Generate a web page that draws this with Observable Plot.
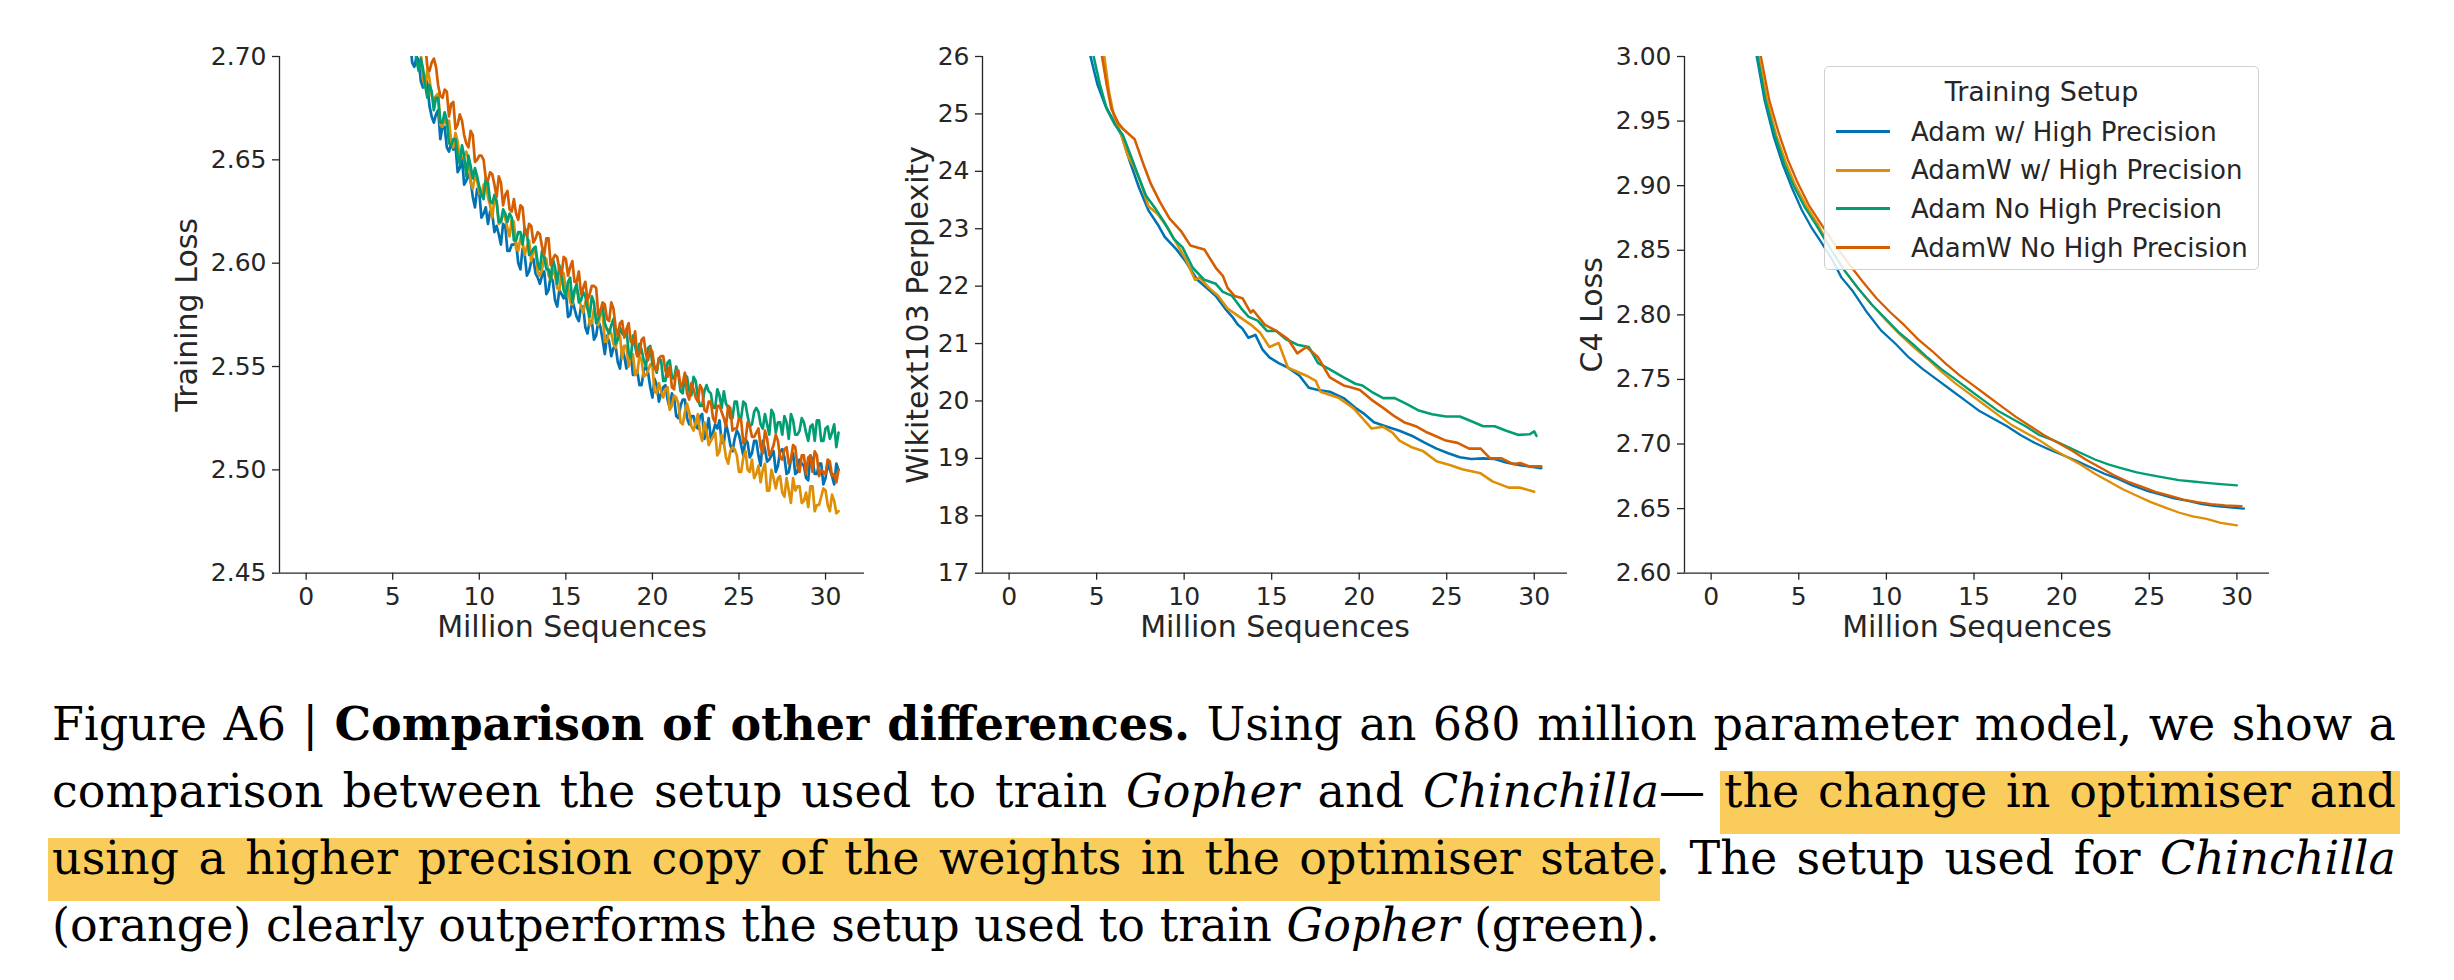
<!DOCTYPE html>
<html>
<head>
<meta charset="utf-8">
<script src="https://cdn.jsdelivr.net/npm/d3@7"></script>
<script src="https://cdn.jsdelivr.net/npm/@observablehq/plot@0.6"></script>
<style>
html, body { margin: 0; padding: 0; background: #fff; }
#page { position: relative; width: 2454px; height: 980px; overflow: hidden; background: #fff; }
.panel { position: absolute; top: 0; }
#legend { position: absolute; left: 1824px; top: 66px; width: 435px; height: 204px; box-sizing: border-box;
  border: 1.3px solid #cfcfcf; border-radius: 5px; background: rgba(255,255,255,0.85);
  font-family: "DejaVu Sans"; color: #262626; }
#legend .lt { position: absolute; left: 0; right: 0; top: 5px; height: 40px; line-height: 40px; font-size: 27px; text-align: center; }
#legend .row { position: absolute; left: 0; right: 0; height: 38.6px; line-height: 38.6px; font-size: 26px; white-space: nowrap; }
#legend .sw { position: absolute; left: 11px; width: 54px; height: 3px; top: 17.5px; }
#legend .tx { position: absolute; left: 86px; top: 0; }
#caption { position: absolute; left: 52px; top: 691px; width: 2344px; font-family: "DejaVu Serif"; font-size: 46px; color: #000; }
#caption .cl { height: 67px; line-height: 67px; white-space: nowrap; }
#caption .in { display: inline-block; white-space: nowrap; }
#caption .hl { padding: 0 4px 15.6px 4px; margin: 0 -4px; background: linear-gradient(to bottom, transparent 7px, #f9cc5c 7px); }
</style>
</head>
<body>
<div id="page">
  <div id="p1" class="panel"></div>
  <div id="p2" class="panel"></div>
  <div id="p3" class="panel"></div>
  <div id="legend"></div>
  <div id="caption">
    <div class="cl j"><span class="in">Figure A6 | <b>Comparison of other differences.</b> Using an 680 million parameter model, we show a</span></div>
    <div class="cl j"><span class="in">comparison between the setup used to train <i>Gopher</i> and <i>Chinchilla</i>— <span class="hl">the change in optimiser and</span></span></div>
    <div class="cl j"><span class="in"><span class="hl">using a higher precision copy of the weights in the optimiser state</span>. The setup used for <i>Chinchilla</i></span></div>
    <div class="cl"><span class="in">(orange) clearly outperforms the setup used to train <i>Gopher</i> (green).</span></div>
  </div>
</div>
<script>
// ---------------- data ----------------
const setups = ["Adam w/ High Precision", "AdamW w/ High Precision", "Adam No High Precision", "AdamW No High Precision"];
const colors = ["#0173b2", "#de8f05", "#029e73", "#d55e00"];
const legendTitle = "Training Setup";
const xLabel = "Million Sequences";
const xTicks = [0, 5, 10, 15, 20, 25, 30];

// Panel 1: training loss (noisy). Values at trainX and at the in-between steps trainXMid.
const trainX = [6,6.25,6.5,6.75,7,7.25,7.5,7.75,8,8.25,8.5,8.75,9,9.25,9.5,9.75,10,10.25,10.5,10.75,11,11.25,11.5,11.75,12,12.25,12.5,12.75,13,13.25,13.5,13.75,14,14.25,14.5,14.75,15,15.25,15.5,15.75,16,16.25,16.5,16.75,17,17.25,17.5,17.75,18,18.25,18.5,18.75,19,19.25,19.5,19.75,20,20.25,20.5,20.75,21,21.25,21.5,21.75,22,22.25,22.5,22.75,23,23.25,23.5,23.75,24,24.25,24.5,24.75,25,25.25,25.5,25.75,26,26.25,26.5,26.75,27,27.25,27.5,27.75,28,28.25,28.5,28.75,29,29.25,29.5,29.75,30,30.25,30.5,30.75];
const trainXMid = [6.125,6.375,6.625,6.875,7.125,7.375,7.625,7.875,8.125,8.375,8.625,8.875,9.125,9.375,9.625,9.875,10.125,10.375,10.625,10.875,11.125,11.375,11.625,11.875,12.125,12.375,12.625,12.875,13.125,13.375,13.625,13.875,14.125,14.375,14.625,14.875,15.125,15.375,15.625,15.875,16.125,16.375,16.625,16.875,17.125,17.375,17.625,17.875,18.125,18.375,18.625,18.875,19.125,19.375,19.625,19.875,20.125,20.375,20.625,20.875,21.125,21.375,21.625,21.875,22.125,22.375,22.625,22.875,23.125,23.375,23.625,23.875,24.125,24.375,24.625,24.875,25.125,25.375,25.625,25.875,26.125,26.375,26.625,26.875,27.125,27.375,27.625,27.875,28.125,28.375,28.625,28.875,29.125,29.375,29.625,29.875,30.125,30.375,30.625];

const trainAdamHP = [2.708,2.695,2.698,2.685,2.687,2.671,2.672,2.660,2.666,2.654,
2.655,2.644,2.651,2.640,2.640,2.627,2.634,2.624,2.619,2.624,
2.618,2.609,2.618,2.606,2.609,2.600,2.607,2.594,2.601,2.595,
2.590,2.596,2.587,2.591,2.579,2.585,2.586,2.575,2.578,2.572,
2.579,2.566,2.572,2.565,2.569,2.556,2.562,2.559,2.552,2.559,
2.549,2.556,2.546,2.541,2.548,2.547,2.535,2.541,2.537,2.541,
2.530,2.535,2.525,2.534,2.525,2.526,2.521,2.526,2.515,2.525,
2.518,2.520,2.513,2.522,2.512,2.515,2.517,2.507,2.513,2.508,
2.514,2.502,2.510,2.505,2.509,2.502,2.510,2.498,2.505,2.498,
2.505,2.502,2.495,2.505,2.498,2.503,2.496,2.500,2.493,2.500];
const trainAdamHPMid = [2.697,2.700,2.688,2.690,2.676,2.668,2.674,2.666,2.656,2.658,
2.657,2.646,2.638,2.643,2.632,2.636,2.622,2.627,2.625,2.615,
2.614,2.619,2.606,2.609,2.610,2.597,2.604,2.596,2.602,2.593,
2.594,2.585,2.594,2.582,2.587,2.583,2.574,2.582,2.574,2.579,
2.569,2.572,2.563,2.572,2.563,2.565,2.555,2.560,2.549,2.555,
2.556,2.546,2.548,2.541,2.550,2.540,2.544,2.533,2.540,2.534,
2.537,2.526,2.531,2.534,2.522,2.526,2.520,2.527,2.519,2.515,
2.522,2.524,2.513,2.518,2.509,2.519,2.512,2.515,2.506,2.514,
2.507,2.514,2.504,2.507,2.499,2.509,2.506,2.499,2.508,2.499,
2.503,2.496,2.507,2.498,2.503,2.493,2.503,2.497,2.503];

const trainAdamWHP = [2.716,2.703,2.701,2.689,2.694,2.681,2.681,2.667,2.670,2.669,
2.656,2.659,2.651,2.654,2.639,2.642,2.634,2.638,2.632,2.622,
2.630,2.620,2.622,2.613,2.620,2.606,2.610,2.608,2.601,2.606,
2.594,2.603,2.594,2.597,2.588,2.596,2.587,2.581,2.586,2.584,
2.576,2.583,2.571,2.574,2.576,2.562,2.568,2.561,2.565,2.554,
2.560,2.555,2.546,2.555,2.545,2.548,2.550,2.537,2.538,2.539,
2.529,2.536,2.532,2.522,2.532,2.521,2.523,2.518,2.523,2.512,
2.516,2.507,2.517,2.506,2.509,2.510,2.499,2.506,2.500,2.505,
2.498,2.494,2.503,2.490,2.496,2.496,2.489,2.496,2.484,2.490,
2.492,2.485,2.482,2.492,2.483,2.487,2.490,2.480,2.485,2.480];
const trainAdamWHPMid = [2.714,2.702,2.701,2.685,2.689,2.679,2.682,2.666,2.667,2.659,
2.663,2.650,2.652,2.650,2.636,2.640,2.633,2.639,2.628,2.631,
2.619,2.624,2.617,2.621,2.607,2.612,2.604,2.611,2.606,2.596,
2.597,2.602,2.592,2.594,2.587,2.595,2.589,2.580,2.587,2.579,
2.581,2.570,2.578,2.570,2.576,2.562,2.566,2.559,2.565,2.560,
2.550,2.556,2.547,2.553,2.546,2.551,2.538,2.542,2.535,2.540,
2.531,2.535,2.523,2.528,2.528,2.519,2.527,2.514,2.519,2.514,
2.518,2.509,2.513,2.503,2.511,2.507,2.499,2.509,2.499,2.496,
2.502,2.500,2.490,2.500,2.491,2.497,2.487,2.490,2.496,2.492,
2.484,2.489,2.492,2.480,2.483,2.491,2.483,2.488,2.479];

const trainAdamNoHP = [2.706,2.707,2.693,2.694,2.680,2.683,2.680,2.668,2.673,2.658,
2.660,2.652,2.657,2.642,2.647,2.646,2.637,2.631,2.639,2.629,
2.630,2.620,2.624,2.624,2.611,2.615,2.609,2.615,2.605,2.608,
2.597,2.603,2.597,2.602,2.590,2.594,2.584,2.593,2.587,2.581,
2.586,2.578,2.584,2.571,2.577,2.571,2.566,2.573,2.563,2.566,
2.568,2.554,2.560,2.561,2.553,2.559,2.551,2.547,2.553,2.543,
2.553,2.544,2.546,2.537,2.545,2.536,2.543,2.531,2.538,2.538,
2.530,2.539,2.530,2.532,2.525,2.533,2.525,2.533,2.526,2.522,
2.530,2.522,2.527,2.517,2.527,2.523,2.517,2.523,2.527,2.517,
2.519,2.523,2.514,2.522,2.524,2.514,2.520,2.515,2.522,2.518];
const trainAdamNoHPMid = [2.709,2.698,2.699,2.686,2.686,2.674,2.680,2.668,2.669,2.657,
2.660,2.648,2.652,2.652,2.641,2.642,2.633,2.641,2.630,2.633,
2.620,2.626,2.620,2.622,2.611,2.615,2.617,2.604,2.607,2.600,
2.606,2.597,2.592,2.598,2.599,2.587,2.591,2.581,2.590,2.582,
2.584,2.574,2.581,2.573,2.579,2.568,2.570,2.561,2.569,2.565,
2.557,2.565,2.555,2.558,2.550,2.560,2.550,2.554,2.543,2.552,
2.545,2.550,2.538,2.546,2.538,2.545,2.535,2.531,2.541,2.537,
2.530,2.536,2.538,2.530,2.525,2.533,2.525,2.532,2.521,2.528,
2.528,2.520,2.522,2.529,2.518,2.523,2.526,2.515,2.524,2.517,
2.525,2.518,2.521,2.514,2.524,2.514,2.521,2.518,2.511];

const trainAdamWNoHP = [2.719,2.722,2.710,2.709,2.695,2.697,2.695,2.681,2.684,2.671,
2.678,2.667,2.669,2.658,2.664,2.649,2.652,2.650,2.640,2.643,
2.632,2.639,2.633,2.626,2.631,2.621,2.627,2.613,2.618,2.612,
2.614,2.604,2.612,2.602,2.603,2.594,2.602,2.598,2.591,2.596,
2.588,2.582,2.589,2.588,2.577,2.580,2.572,2.578,2.565,2.572,
2.568,2.562,2.567,2.556,2.564,2.553,2.557,2.548,2.555,2.548,
2.550,2.539,2.548,2.542,2.537,2.542,2.535,2.541,2.529,2.533,
2.525,2.531,2.528,2.521,2.530,2.520,2.525,2.513,2.523,2.516,
2.518,2.511,2.519,2.507,2.512,2.514,2.505,2.511,2.505,2.511,
2.499,2.507,2.506,2.499,2.507,2.500,2.498,2.504,2.498,2.500];
const trainAdamWNoHPMid = [2.720,2.719,2.704,2.706,2.693,2.699,2.686,2.680,2.683,2.677,
2.665,2.672,2.662,2.656,2.662,2.650,2.652,2.641,2.644,2.638,
2.642,2.628,2.635,2.625,2.624,2.628,2.616,2.619,2.610,2.615,
2.608,2.612,2.599,2.604,2.597,2.603,2.594,2.601,2.591,2.585,
2.591,2.585,2.589,2.575,2.581,2.573,2.581,2.569,2.571,2.564,
2.571,2.561,2.555,2.563,2.556,2.559,2.549,2.554,2.555,2.545,
2.540,2.548,2.540,2.547,2.534,2.539,2.533,2.539,2.528,2.533,
2.523,2.531,2.525,2.531,2.519,2.520,2.524,2.514,2.521,2.516,
2.520,2.508,2.515,2.509,2.517,2.506,2.510,2.503,2.512,2.502,
2.507,2.498,2.507,2.509,2.497,2.499,2.505,2.497,2.494];

// Panel 2: Wikitext103 perplexity [million sequences, perplexity]
const wikiAdamHP = [[4.65,26.0],[5.04,25.52],[5.52,25.13],[5.97,24.88],[6.42,24.63],[6.9,24.17],[7.43,23.71],[7.96,23.32],[8.5,23.07],[8.89,22.86],[9.56,22.64],[10.09,22.43],[10.75,22.11],[11.28,21.97],[11.81,21.83],[12.34,21.61],[12.74,21.47],[13.06,21.33],[13.33,21.26],[13.67,21.1],[14.07,21.15],[14.47,20.9],[14.87,20.76],[15.4,20.66],[15.93,20.58],[16.59,20.44],[17.12,20.23],[17.65,20.19],[18.32,20.16],[19.11,20.05],[19.78,19.88],[20.31,19.77],[20.84,19.63],[21.5,19.56],[22.3,19.48],[23.1,19.38],[23.76,19.27],[24.42,19.17],[25.09,19.09],[25.75,19.02],[26.41,18.99],[27.08,19.0],[27.74,18.99],[28.4,18.93],[29.2,18.88],[30.4,18.83]];
const wikiAdamWHP = [[5.44,26.0],[5.71,25.38],[5.97,24.99],[6.37,24.67],[6.77,24.28],[7.17,24.06],[7.43,23.88],[7.96,23.39],[8.5,23.25],[9.03,23.03],[9.56,22.75],[10.09,22.47],[10.62,22.11],[10.88,22.15],[11.42,21.97],[11.95,21.83],[12.48,21.61],[13.14,21.47],[13.8,21.33],[14.34,21.19],[14.87,20.94],[15.4,21.01],[15.93,20.58],[16.46,20.51],[16.99,20.44],[17.52,20.35],[17.79,20.16],[18.85,20.05],[19.65,19.88],[20.18,19.7],[20.71,19.52],[21.37,19.55],[21.9,19.45],[22.3,19.31],[22.96,19.2],[23.63,19.13],[24.42,18.95],[25.22,18.88],[25.88,18.81],[26.94,18.74],[27.61,18.6],[28.54,18.49],[29.2,18.49],[30.0,18.42]];
const wikiAdamNoHP = [[4.83,26.0],[5.18,25.52],[5.57,25.09],[6.05,24.81],[6.5,24.63],[6.9,24.31],[7.43,23.88],[7.83,23.57],[8.36,23.35],[8.89,23.1],[9.42,22.82],[9.9,22.68],[10.49,22.32],[11.15,22.11],[11.81,22.04],[12.21,21.9],[12.74,21.83],[13.27,21.61],[13.67,21.47],[14.2,21.4],[14.73,21.22],[15.26,21.22],[15.8,21.08],[16.46,20.98],[17.12,20.94],[17.65,20.66],[18.32,20.55],[19.11,20.41],[19.78,20.3],[20.18,20.27],[20.71,20.16],[21.37,20.05],[22.03,20.05],[22.7,19.95],[23.36,19.84],[24.16,19.77],[24.95,19.73],[25.75,19.73],[26.55,19.63],[27.08,19.56],[27.74,19.56],[28.4,19.48],[29.07,19.41],[29.73,19.42],[30.0,19.47],[30.13,19.39]];
const wikiAdamWNoHP = [[5.31,26.0],[5.57,25.52],[5.84,25.09],[6.24,24.84],[6.5,24.74],[7.17,24.56],[7.7,24.1],[8.1,23.78],[8.63,23.46],[9.16,23.18],[9.82,22.96],[10.35,22.71],[11.15,22.64],[11.81,22.32],[12.21,22.18],[12.48,21.97],[12.87,21.83],[13.33,21.79],[13.8,21.54],[13.94,21.58],[14.6,21.33],[15.26,21.22],[15.93,21.08],[16.46,20.83],[16.99,20.94],[17.65,20.76],[18.32,20.41],[19.11,20.27],[19.51,20.24],[20.04,20.19],[20.71,20.02],[21.37,19.88],[22.03,19.73],[22.56,19.63],[23.23,19.56],[23.89,19.45],[24.42,19.38],[24.95,19.31],[25.62,19.27],[26.28,19.17],[26.94,19.17],[27.48,19.0],[28.14,19.0],[28.8,18.9],[29.2,18.92],[29.73,18.86],[30.4,18.86]];

// Panel 3: C4 loss [million sequences, loss]
const c4AdamHP = [[2.6,3.0],[3.05,2.966],[3.58,2.9375],[4.11,2.9155],[4.65,2.897],[5.18,2.881],[5.71,2.868],[6.24,2.857],[6.9,2.843],[7.43,2.829],[8.1,2.818],[8.89,2.802],[9.69,2.788],[10.49,2.778],[11.28,2.767],[12.08,2.758],[12.87,2.75],[13.67,2.742],[14.47,2.734],[15.26,2.726],[16.06,2.72],[16.86,2.714],[17.65,2.707],[18.45,2.701],[19.25,2.696],[20.05,2.6915],[20.84,2.687],[21.64,2.682],[22.44,2.677],[23.23,2.673],[24.03,2.668],[24.82,2.664],[25.62,2.661],[26.42,2.658],[27.21,2.656],[28.01,2.6535],[28.8,2.652],[29.6,2.651],[30.4,2.65]];
const c4AdamWHP = [[2.71,3.0],[3.19,2.966],[3.72,2.939],[4.25,2.9186],[4.78,2.901],[5.44,2.884],[6.1,2.87],[6.9,2.849],[7.57,2.835],[8.36,2.821],[9.16,2.808],[9.96,2.796],[10.75,2.785],[11.55,2.775],[12.34,2.766],[13.14,2.756],[13.94,2.747],[14.73,2.739],[15.53,2.731],[16.33,2.723],[17.12,2.715],[17.92,2.709],[18.72,2.703],[19.51,2.696],[20.31,2.69],[21.1,2.684],[21.9,2.677],[22.7,2.671],[23.49,2.665],[24.29,2.66],[25.09,2.655],[25.88,2.651],[26.68,2.647],[27.48,2.644],[28.27,2.642],[29.07,2.639],[30.0,2.637]];
const c4AdamNoHP = [[2.65,3.0],[3.1,2.966],[3.64,2.939],[4.17,2.917],[4.7,2.9],[5.31,2.884],[5.97,2.87],[6.77,2.852],[7.57,2.835],[8.36,2.821],[9.16,2.808],[9.96,2.797],[10.75,2.786],[11.55,2.777],[12.34,2.767],[13.14,2.758],[13.94,2.75],[14.73,2.742],[15.53,2.734],[16.33,2.726],[17.12,2.72],[17.92,2.714],[18.72,2.707],[19.51,2.703],[20.31,2.698],[21.1,2.693],[21.9,2.688],[22.7,2.684],[23.49,2.681],[24.29,2.678],[25.09,2.676],[25.88,2.674],[26.68,2.672],[27.48,2.671],[28.27,2.67],[29.07,2.669],[30.0,2.668]];
const c4AdamWNoHP = [[2.84,3.0],[3.32,2.966],[3.85,2.941],[4.38,2.92],[4.91,2.903],[5.57,2.885],[6.24,2.871],[7.03,2.855],[7.83,2.84],[8.63,2.826],[9.42,2.813],[10.22,2.802],[11.02,2.792],[11.81,2.781],[12.61,2.772],[13.4,2.762],[14.2,2.753],[15.0,2.745],[15.79,2.737],[16.59,2.729],[17.39,2.721],[18.19,2.714],[18.98,2.707],[19.78,2.701],[20.58,2.695],[21.37,2.688],[22.17,2.682],[22.96,2.676],[23.76,2.671],[24.56,2.667],[25.35,2.663],[26.15,2.66],[26.95,2.657],[27.74,2.655],[28.54,2.6535],[29.33,2.6525],[30.27,2.652]];

const trainTicks = [2.45, 2.50, 2.55, 2.60, 2.65, 2.70];
const wikiTicks = [17, 18, 19, 20, 21, 22, 23, 24, 25, 26];
const c4Ticks = [2.60, 2.65, 2.70, 2.75, 2.80, 2.85, 2.90, 2.95, 3.00];

// ---------------- build rows ----------------
const trainMain = [trainAdamHP, trainAdamWHP, trainAdamNoHP, trainAdamWNoHP];
const trainMid = [trainAdamHPMid, trainAdamWHPMid, trainAdamNoHPMid, trainAdamWNoHPMid];
const trainRows = [];
trainMain.forEach((ys, s) => {
  trainX.forEach((x, i) => {
    trainRows.push({x, y: ys[i], setup: setups[s]});
    if (i < trainXMid.length) trainRows.push({x: trainXMid[i], y: trainMid[s][i], setup: setups[s]});
  });
});
const pairRows = (list) => list.flatMap((pairs, s) => pairs.map(([x, y]) => ({x, y, setup: setups[s]})));
const wikiRows = pairRows([wikiAdamHP, wikiAdamWHP, wikiAdamNoHP, wikiAdamWNoHP]);
const c4Rows = pairRows([c4AdamHP, c4AdamWHP, c4AdamNoHP, c4AdamWNoHP]);

const INK = "#262626";
function makePanel(rows, cfg) {
  return Plot.plot({
    width: 735, height: 680,
    marginLeft: 130, marginRight: 20, marginTop: 56, marginBottom: 107.3,
    style: {fontFamily: "DejaVu Sans", fontSize: "25px", color: INK, background: "transparent", overflow: "visible"},
    x: {domain: cfg.xDomain},
    y: {domain: cfg.yDomain},
    color: {domain: setups, range: colors},
    marks: [
      Plot.line(rows, {x: "x", y: "y", z: "setup", stroke: "setup", strokeWidth: cfg.sw, clip: true}),
      Plot.ruleX([cfg.xDomain[0]], {stroke: INK, strokeWidth: 1.3}),
      Plot.ruleY([cfg.yDomain[0]], {stroke: INK, strokeWidth: 1.3}),
      Plot.axisX({ticks: xTicks, tickSize: 7, tickPadding: 7, strokeWidth: 1.3, label: null, tickFormat: d => String(d)}),
      Plot.axisY({ticks: cfg.yTicks, tickSize: 7, tickPadding: 6, strokeWidth: 1.3, label: null, tickFormat: cfg.fmt}),
      Plot.text([cfg.yLabel], {frameAnchor: "left", rotate: -90, dx: cfg.labelDx, textAnchor: "middle", lineAnchor: "middle", fontSize: 30}),
      Plot.text([xLabel], {frameAnchor: "bottom", dy: 64, textAnchor: "middle", lineAnchor: "bottom", fontSize: 30})
    ]
  });
}

const panels = [
  {id: "p1", left: 149.3, rows: trainRows, cfg: {xDomain: [-1.54, 32.25], yDomain: [2.45, 2.70], yTicks: trainTicks, fmt: d3.format(".2f"), yLabel: "Training Loss", labelDx: -92, sw: 2.7}},
  {id: "p2", left: 851.5, rows: wikiRows, cfg: {xDomain: [-1.52, 31.9], yDomain: [17, 26], yTicks: wikiTicks, fmt: d3.format("d"), yLabel: "Wikitext103 Perplexity", labelDx: -64, sw: 2.6}},
  {id: "p3", left: 1553.7, rows: c4Rows, cfg: {xDomain: [-1.52, 31.86], yDomain: [2.60, 3.00], yTicks: c4Ticks, fmt: d3.format(".2f"), yLabel: "C4 Loss", labelDx: -92, sw: 2.3}}
];
for (const p of panels) {
  const el = document.getElementById(p.id);
  el.style.left = p.left + "px";
  el.appendChild(makePanel(p.rows, p.cfg));
}

// ---------------- legend ----------------
const legend = document.getElementById("legend");
const lt = document.createElement("div");
lt.className = "lt"; lt.textContent = legendTitle;
legend.appendChild(lt);
setups.forEach((name, i) => {
  const row = document.createElement("div");
  row.className = "row";
  row.style.top = (45.7 + i * 38.6) + "px";
  const sw = document.createElement("div");
  sw.className = "sw"; sw.style.background = colors[i];
  const tx = document.createElement("div");
  tx.className = "tx"; tx.textContent = name;
  row.appendChild(sw); row.appendChild(tx);
  legend.appendChild(row);
});

// ---------------- caption justification ----------------
const TARGET = 2344;
document.querySelectorAll("#caption .cl.j .in").forEach(el => {
  const w = el.getBoundingClientRect().width;
  const txt = el.textContent;
  const spaces = (txt.match(/ /g) || []).length;
  if (w <= TARGET) {
    el.style.wordSpacing = ((TARGET - w) / spaces) + "px";
  } else {
    el.style.letterSpacing = ((TARGET - w) / txt.length) + "px";
  }
});
</script>
</body>
</html>
